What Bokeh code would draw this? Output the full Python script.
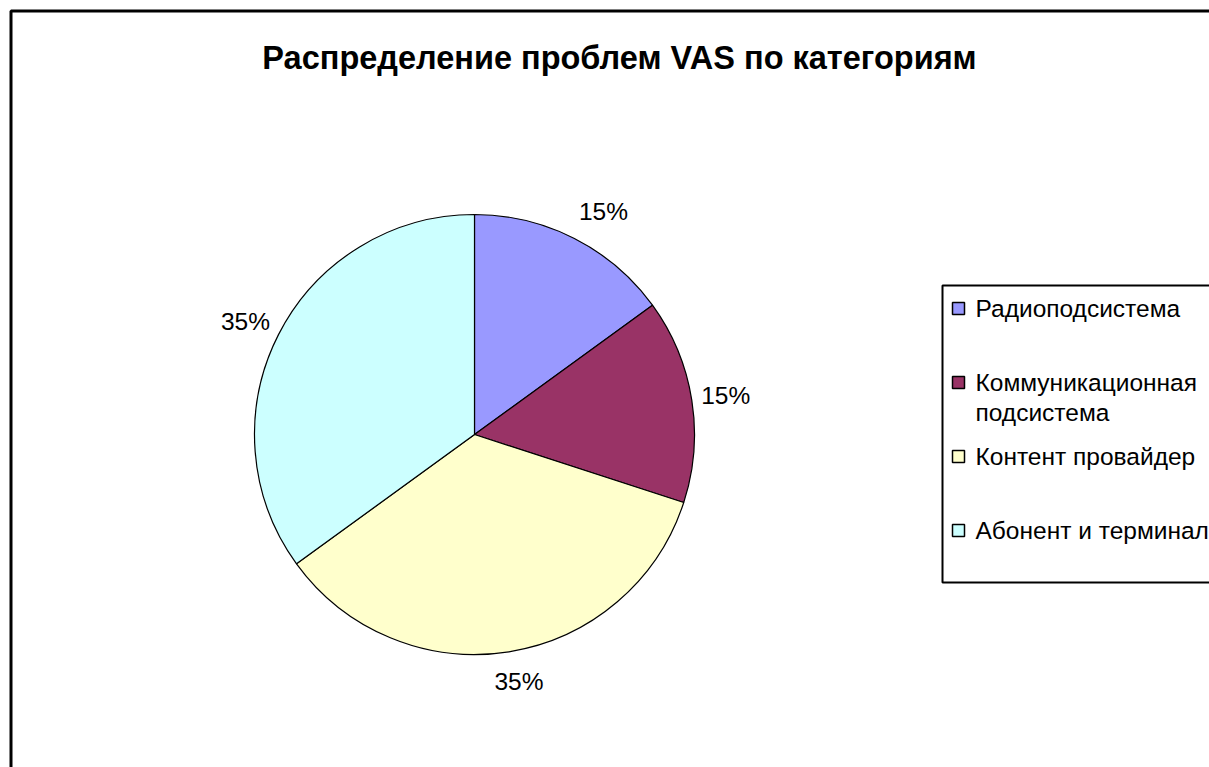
import numpy as np
from bokeh.plotting import figure
from bokeh.models import Range1d, ColumnDataSource
from bokeh.core.properties import value
from bokeh.embed import file_html
from bokeh.resources import INLINE

# ---- data ----
title = "Распределение проблем VAS по категориям"
categories = ["Радиоподсистема", "Коммуникационная подсистема", "Контент провайдер", "Абонент и терминал"]
shares = [15, 15, 35, 35]
colors = ["#9999FF", "#993366", "#FFFFCC", "#CCFFFF"]

# ---- layout (1 data unit = 1 screen pixel) ----
W, H = 1209, 767
def sx(x):
    return x
def sy(y):
    return H - y

FONT = value("Liberation Sans")

p = figure(width=W, height=H, x_range=Range1d(0, W), y_range=Range1d(0, H),
           output_backend="svg", toolbar_location=None, min_border=0)
p.axis.visible = False
p.grid.visible = False
p.outline_line_color = None
p.background_fill_color = "white"
p.border_fill_color = "white"

# chart area border (right/bottom edges fall outside the view, as in the reference)
p.quad(left=sx(10.5), right=W + 60, top=sy(10.5), bottom=-60,
       fill_color=None, line_color="black", line_width=3)

# title
p.text(x=[sx(619)], y=[sy(57)], text=[title], text_font=FONT, text_font_style="bold",
       text_font_size="32.5px", text_align="center", text_baseline="middle", text_color="black")

# pie
cx, cy, r = sx(474), sy(434), 220
vals = np.array(shares, dtype=float)
frac = vals / vals.sum()
cum_after = np.cumsum(frac)
cum_before = cum_after - frac
start = np.pi / 2 - cum_after * 2 * np.pi
end = np.pi / 2 - cum_before * 2 * np.pi
src = ColumnDataSource(dict(start=start, end=end, color=colors, cat=categories))
p.wedge(x=cx, y=cy, radius=r, start_angle="start", end_angle="end",
        fill_color="color", line_color="black", line_width=1.2, source=src)

# percentage labels (outside end, offset along the slice mid-angle)
mid = (start + end) / 2
c = np.cos(mid)
lab_x = cx + 229 * c + 25 * np.sign(c) * np.minimum(1.0, np.abs(c) / 0.45)
lab_y = cy + 250 * np.sin(mid)
lab_txt = [f"{v:.0f}%" for v in frac * 100]
p.text(x=lab_x, y=lab_y, text=lab_txt, text_font=FONT, text_font_size="24.5px",
       text_align="center", text_baseline="middle", text_color="black")

# legend box
p.quad(left=sx(942), right=W + 60, top=sy(285), bottom=sy(582),
       fill_color="white", line_color="black", line_width=2)

row_y = np.array([sy(308 + 74 * i) for i in range(len(categories))], dtype=float)
p.rect(x=[sx(958)] * len(categories), y=row_y, width=12, height=12,
       fill_color=colors, line_color="black", line_width=1.5)
disp = [cat.replace("онная ", "онная\n") for cat in categories]
p.text(x=[sx(975)] * len(categories), y=row_y + 14, text=disp, text_font=FONT,
       text_font_size="24.5px", text_align="left", text_baseline="top",
       text_line_height=1.12, text_color="black")

open("out.html", "w").write(file_html(p, INLINE))
